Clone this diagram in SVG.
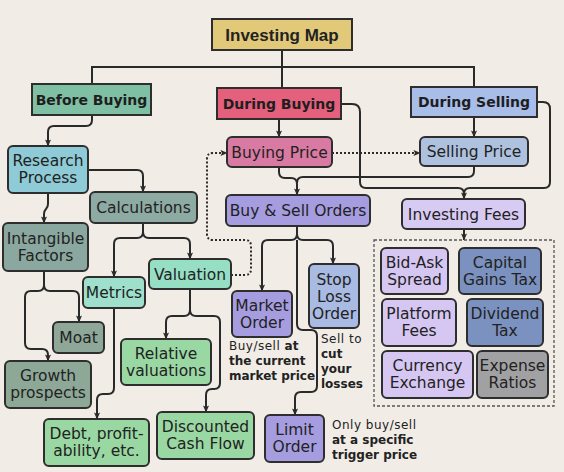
<svg xmlns="http://www.w3.org/2000/svg" width="564" height="472" viewBox="0 0 564 472">
<defs>
<marker id="ah" viewBox="0 0 8 8" refX="7.5" refY="4" markerWidth="7" markerHeight="7" markerUnits="userSpaceOnUse" orient="auto">
<path d="M0,0.5 L8,4 L0,7.5 L1.8,4 z" fill="#2a2a2a"/>
</marker>
<style>
.hd{stroke:#2e2e2e;stroke-width:2}
.bx{stroke:#2e2e2e;stroke-width:2}
.ht{font-family:"DejaVu Sans",sans-serif;font-weight:bold;font-size:14px;fill:#1e1e1e;text-anchor:middle}
.t{font-family:"DejaVu Sans",sans-serif;font-size:15.5px;fill:#222;text-anchor:middle}
.an{font-family:"DejaVu Sans",sans-serif;font-size:12px;fill:#222}
.b{font-weight:bold}
.r{letter-spacing:0.5px}
.c path{fill:none;stroke:#2a2a2a;stroke-width:2}
.c .dot{stroke-dasharray:2 2;stroke-width:2}
</style>
</defs>
<rect width="564" height="472" fill="#f1ede6"/>

<g class="c" id="connectors">
<path d="M92,84 V67 H474 V87"/>
<path d="M282,50 V88"/>
<path d="M92,115 V120 Q92,126 86,126 H54 Q48,126 48,132 V146" marker-end="url(#ah)"/>
<path d="M88,170 H137 Q143,170 143,176 V192" marker-end="url(#ah)"/>
<path d="M48,193 V204 C48,210 44,208 44,214 V223" marker-end="url(#ah)"/>
<path d="M143,223 V232 Q143,238 137,238 H120 Q114,238 114,244 V277" marker-end="url(#ah)"/>
<path d="M143,232 Q143,238 149,238 H184 Q190,238 190,244 V259" marker-end="url(#ah)"/>
<path d="M44,271 V285 Q44,291 38,291 H31 Q25,291 25,297 V343 Q25,349 31,349 H42 Q48,349 48,355 V361" marker-end="url(#ah)"/>
<path d="M44,285 Q44,291 50,291 H73 Q79,291 79,297 V322" marker-end="url(#ah)"/>
<path d="M114,308 V388 Q114,394 108,394 H103 Q97,394 97,400 V419" marker-end="url(#ah)"/>
<path d="M190,289 V310 Q190,316 184,316 H172 Q166,316 166,322 V339" marker-end="url(#ah)"/>
<path d="M190,310 Q190,316 196,316 H214 Q220,316 220,322 V383 Q220,389 214,389 H212 Q206,389 206,395 V412" marker-end="url(#ah)"/>
<path class="dot" d="M231,275 H245 Q251,275 251,269 V246 Q251,240 245,240 H213 Q207,240 207,234 V159 Q207,153 213,153 H227" marker-end="url(#ah)"/>
<path d="M279,119 V137" marker-end="url(#ah)"/>
<path class="dot" d="M332,153 H420" marker-end="url(#ah)"/>
<path d="M474,117 V137" marker-end="url(#ah)"/>
<path d="M279,167 V172 Q279,178 285,178 H291 Q297,178 297,184 V195" marker-end="url(#ah)"/>
<path d="M474,166 V171 Q474,177 468,177 H303 Q297,177 297,183"/>
<path d="M341,104 H352 Q360,104 360,112 V182 Q360,188 366,188 H458 Q464,188 464,194 V199" marker-end="url(#ah)"/>
<path d="M537,102 H543 Q550,102 550,109 V182 Q550,188 544,188 H470 Q464,188 464,194"/>
<path d="M464,229 V240" marker-end="url(#ah)"/>
<path d="M297,226 V234 Q297,240 291,240 H268 Q262,240 262,246 V291" marker-end="url(#ah)"/>
<path d="M297,234 Q297,240 303,240 H327 Q333,240 333,246 V264" marker-end="url(#ah)"/>
<path d="M297,240 V324 Q297,330 303,330 H311 Q317,330 317,336 V386 Q317,392 311,392 H301 Q295,392 295,398 V415" marker-end="url(#ah)"/>
</g>

<g id="title"><rect class="hd" x="212" y="19" width="140" height="31" fill="#e2c97a"/><text x="282" y="40.5" style="font-family:'Liberation Sans',sans-serif;font-weight:bold;font-size:17px;fill:#222;text-anchor:middle">Investing Map</text></g>
<g id="before-buying"><rect class="hd" x="32" y="84" width="119" height="31" fill="#7fbfa4"/><text class="ht" x="91.5" y="104.5">Before Buying</text></g>
<g id="during-buying"><rect class="hd" x="217" y="88" width="124" height="31" fill="#e4607c"/><text class="ht" x="279" y="108.5">During Buying</text></g>
<g id="during-selling"><rect class="hd" x="411" y="87" width="126" height="30" fill="#a9bde9"/><text class="ht" x="474" y="107">During Selling</text></g>

<g id="research"><rect class="bx" x="8" y="146" width="80" height="47" rx="5" fill="#8ecbd6"/><text class="t" x="48" y="166">Research</text><text class="t" x="48" y="183">Process</text></g>
<g id="calculations"><rect class="bx" x="90" y="192" width="107" height="31" rx="5" fill="#8eaba3"/><text class="t" x="143.5" y="213">Calculations</text></g>
<g id="intangible"><rect class="bx" x="3" y="223" width="85" height="48" rx="5" fill="#8aa89f"/><text class="t" x="45.5" y="243.5">Intangible</text><text class="t" x="45.5" y="260.5">Factors</text></g>
<g id="metrics"><rect class="bx" x="83" y="277" width="62" height="31" rx="5" fill="#9ee0cc"/><text class="t" x="114" y="298">Metrics</text></g>
<g id="valuation"><rect class="bx" x="149" y="259" width="82" height="30" rx="5" fill="#96dfc5"/><text class="t" x="190" y="279.5">Valuation</text></g>
<g id="moat"><rect class="bx" x="53" y="322" width="51" height="31" rx="5" fill="#8ea798"/><text class="t" x="78.5" y="343">Moat</text></g>
<g id="growth"><rect class="bx" x="5" y="361" width="86" height="47" rx="5" fill="#8ea897"/><text class="t" x="48" y="381">Growth</text><text class="t" x="48" y="398">prospects</text></g>
<g id="debt"><rect class="bx" x="44" y="419" width="105" height="47" rx="5" fill="#9ad8a3"/><text class="t" x="96.5" y="439">Debt, profit-</text><text class="t" x="96.5" y="456">ability, etc.</text></g>
<g id="relative"><rect class="bx" x="121" y="339" width="90" height="46" rx="5" fill="#9ad8a3"/><text class="t" x="166" y="358.5">Relative</text><text class="t" x="166" y="375.5">valuations</text></g>
<g id="dcf"><rect class="bx" x="157" y="412" width="97" height="47" rx="5" fill="#9ad8a3"/><text class="t" x="205.5" y="432">Discounted</text><text class="t" x="205.5" y="449">Cash Flow</text></g>

<g id="buying-price"><rect class="bx" x="227" y="137" width="105" height="30" rx="5" fill="#d97aa3"/><text class="t" x="279.5" y="157.5">Buying Price</text></g>
<g id="selling-price"><rect class="bx" x="420" y="137" width="108" height="29" rx="5" fill="#aec2e0"/><text class="t" x="474" y="157">Selling Price</text></g>
<g id="buy-sell-orders"><rect class="bx" x="226" y="195" width="144" height="31" rx="5" fill="#a59de0"/><text class="t" x="298" y="216">Buy &amp; Sell Orders</text></g>
<g id="investing-fees"><rect class="bx" x="402" y="199" width="123" height="30" rx="5" fill="#d8cbf3"/><text class="t" x="463.5" y="219.5">Investing Fees</text></g>

<g id="market-order"><rect class="bx" x="232" y="291" width="60" height="46" rx="5" fill="#a59de0"/><text class="t" x="262" y="310.5">Market</text><text class="t" x="262" y="327.5">Order</text></g>
<g id="stop-loss"><rect class="bx" x="309" y="264" width="50" height="64" rx="5" fill="#a9bae3"/><text class="t" x="334" y="285">Stop</text><text class="t" x="334" y="302">Loss</text><text class="t" x="334" y="319">Order</text></g>
<g id="limit-order"><rect class="bx" x="265" y="415" width="59" height="47" rx="5" fill="#a59de0"/><text class="t" x="294.5" y="435">Limit</text><text class="t" x="294.5" y="452">Order</text></g>

<g id="market-note"><text class="an" x="229" y="350"><tspan class="r">Buy/sell </tspan><tspan class="b">at</tspan></text><text class="an b" x="229" y="365">the current</text><text class="an b" x="229" y="380">market price</text></g>
<g id="stop-note"><text class="an r" x="321" y="343">Sell to</text><text class="an b" x="321" y="358">cut</text><text class="an b" x="321" y="373">your</text><text class="an b" x="321" y="388">losses</text></g>
<g id="limit-note"><text class="an r" x="332" y="429">Only buy/sell</text><text class="an b" x="332" y="444">at a specific</text><text class="an b" x="332" y="459">trigger price</text></g>

<g id="fees-group"><rect x="374" y="240" width="180" height="166" fill="none" stroke="#555" stroke-width="1.3" stroke-dasharray="3 2"/></g>
<g id="bid-ask"><rect class="bx" x="381" y="248" width="67" height="46" rx="5" fill="#d6c7f2"/><text class="t" x="414.5" y="267.5">Bid-Ask</text><text class="t" x="414.5" y="284.5">Spread</text></g>
<g id="capital-gains"><rect class="bx" x="459" y="248" width="82" height="46" rx="5" fill="#7b91bf"/><text class="t" x="500" y="267.5">Capital</text><text class="t" x="500" y="284.5">Gains Tax</text></g>
<g id="platform-fees"><rect class="bx" x="382" y="299" width="74" height="47" rx="5" fill="#d6c7f2"/><text class="t" x="419" y="319">Platform</text><text class="t" x="419" y="336">Fees</text></g>
<g id="dividend-tax"><rect class="bx" x="467" y="299" width="76" height="47" rx="5" fill="#7b91bf"/><text class="t" x="505" y="319">Dividend</text><text class="t" x="505" y="336">Tax</text></g>
<g id="currency-exchange"><rect class="bx" x="382" y="351" width="91" height="47" rx="5" fill="#d6c7f2"/><text class="t" x="427.5" y="371">Currency</text><text class="t" x="427.5" y="388">Exchange</text></g>
<g id="expense-ratios"><rect class="bx" x="477" y="351" width="71" height="47" rx="5" fill="#a1a1a3"/><text class="t" x="512.5" y="371">Expense</text><text class="t" x="512.5" y="388">Ratios</text></g>
</svg>
